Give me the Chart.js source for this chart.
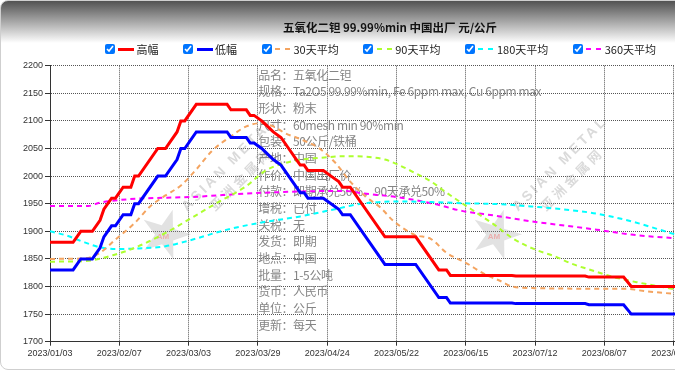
<!DOCTYPE html>
<html>
<head>
<meta charset="utf-8">
<title>五氧化二钽 99.99%min 中国出厂 元/公斤</title>
<script src="https://cdn.jsdelivr.net/npm/chart.js@4.4.0/dist/chart.umd.min.js"></script>
<style>
html, body { margin: 0; padding: 0; background: #fff; overflow: hidden; width: 675px; height: 372px; }
#wrap { position: absolute; left: 0; top: 0; width: 778px; height: 368px; border: 1px solid #cfcfcf; border-radius: 8px;
        background: linear-gradient(#525252 0px, #ffffff 42px, #ffffff 100%); overflow: hidden; }
#chart { position: absolute; left: 0; top: 0; }
#title { position: absolute; left: 0; top: 19px; width: 778px; text-align: center; color: #111;
         font: bold 11.5px/14px "Noto Sans CJK SC", sans-serif; }
#legend { position: absolute; left: 103.5px; top: 41px; height: 14px; display: flex; align-items: center;
          font: 11px/14px "Noto Sans CJK SC", sans-serif; color: #222; }
#legend .item { display: flex; align-items: center; margin-right: 24.5px; cursor: pointer; }
#legend input { width: 10px; height: 10px; margin: 0 3.5px 0 0; }
#legend .swatch { display: inline-block; width: 16px; margin-right: 2.5px; }
</style>
</head>
<body>
<div id="wrap">
  <canvas id="chart" width="778" height="368"></canvas>
  <div id="title">五氧化二钽 99.99%min 中国出厂 元/公斤</div>
  <div id="legend"></div>
</div>
<script>
// x = 交易日序号, 每 18 个交易日一个刻度
const tickLabels = ['2023/01/03', '2023/02/07', '2023/03/03', '2023/03/29', '2023/04/24',
                    '2023/05/22', '2023/06/15', '2023/07/12', '2023/08/07', '2023/08/31'];

// 高幅 / 低幅 (价格折点)
const stepDays  = [0, 6, 8, 11, 13, 14, 16, 17, 19, 21, 22, 23, 28, 30, 33, 34, 35, 38, 46, 47,
                   51, 52, 53, 55, 58, 60, 62, 64, 65, 66, 67, 71, 73, 75, 76, 78, 87, 95, 101, 103,
                   104, 120, 121, 139, 140, 149, 151, 163];
const highPrice = [1880, 1880, 1900, 1900, 1920, 1940, 1960, 1960, 1980, 1980, 2000, 2000, 2050, 2050, 2080, 2100, 2100, 2130, 2130, 2120,
                   2120, 2110, 2110, 2100, 2080, 2070, 2050, 2030, 2020, 2020, 2010, 2010, 2000, 1990, 1980, 1980, 1890, 1890, 1830, 1830,
                   1820, 1820, 1819, 1819, 1817, 1817, 1800, 1800];
const lowPrice  = [1830, 1830, 1850, 1850, 1870, 1890, 1910, 1910, 1930, 1930, 1950, 1950, 2000, 2000, 2030, 2050, 2050, 2080, 2080, 2070,
                   2070, 2060, 2060, 2050, 2030, 2020, 2000, 1980, 1970, 1970, 1960, 1960, 1950, 1940, 1930, 1930, 1840, 1840, 1780, 1780,
                   1770, 1770, 1769, 1769, 1767, 1767, 1750, 1750];

// 均线
const ma30Days = [0, 9, 13, 17, 22, 26, 30, 34, 38, 42, 47, 51, 55, 58, 61, 65, 70, 74, 78, 82,
                  86, 89, 93, 95, 99, 103, 108, 113, 117, 120, 126, 144, 150, 153, 163];
const ma30     = [1850, 1851, 1861, 1885, 1915, 1945, 1965, 1983, 2012, 2045, 2072, 2090, 2096, 2090, 2078, 2067, 2050, 2025, 1990, 1963,
                  1942, 1920, 1900, 1893, 1886, 1861, 1843, 1822, 1810, 1800, 1797, 1796, 1796, 1793, 1786];

const ma90Days = [0, 9, 17, 23, 30, 36, 43, 51, 56, 63, 70, 77, 82, 87, 90, 95, 99, 103, 107, 112,
                  116, 120, 126, 131, 136, 140, 144, 147, 153, 163];
const ma90     = [1845, 1846, 1858, 1873, 1897, 1921, 1950, 1982, 2010, 2027, 2033, 2036, 2035, 2030, 2022, 2005, 1990, 1970, 1951, 1928,
                  1909, 1888, 1867, 1855, 1840, 1831, 1822, 1816, 1807, 1794];

const ma180Days = [0, 4, 9, 13, 17, 23, 30, 36, 46, 55, 65, 74, 81, 90, 99, 107, 117, 125, 133, 142, 151, 163];
const ma180     = [1900, 1893, 1880, 1871, 1868, 1869, 1873, 1883, 1903, 1916, 1927, 1940, 1950, 1954, 1953, 1951, 1949, 1945, 1940, 1932, 1918, 1893];

const ma360Days = [0, 10, 13, 39, 56, 74, 77, 81, 90, 99, 107, 116, 125, 133, 142, 151, 163];
const ma360     = [1946, 1946, 1952, 1963, 1970, 1973, 1973, 1969, 1962, 1951, 1937, 1928, 1918, 1911, 1903, 1894, 1887];

const specLines = ['品名：五氧化二钽', '规格：Ta2O5 99.99%min, Fe 6ppm max, Cu 6ppm max', '形状：粉末',
                   '尺寸：60mesh min 90%min', '包装：50公斤/铁桶', '产地：中国', '作价：中国出厂价',
                   '付款：即期承兑50%，90天承兑50%', '增税：已付', '关税：无', '发货：即期', '地点：中国',
                   '批量：1-5公吨', '货币：人民币', '单位：公斤', '更新：每天'];

const toPts = (days, vals) => days.map((d, i) => ({ x: d, y: vals[i] }));

function drawMark(ctx, cx, cy) {
    ctx.save();
    ctx.translate(cx, cy);
    ctx.fillStyle = 'rgba(150,150,150,0.28)';
    ctx.beginPath();
    for (let i = 0; i < 10; i++) {
        const r = i % 2 ? 10 : 26;
        const a = -Math.PI / 2 + 0.3 + i * Math.PI / 5;
        ctx.lineTo(Math.cos(a) * r, Math.sin(a) * r);
    }
    ctx.closePath();
    ctx.fill();
    ctx.fillStyle = 'rgba(255,80,80,0.35)';
    ctx.font = 'bold 8px "Liberation Sans"';
    ctx.textAlign = 'center';
    ctx.fillText('AM', -2, 4);
    ctx.translate(22, -23);
    ctx.rotate(-Math.PI / 4);
    ctx.textAlign = 'left';
    ctx.fillStyle = 'rgba(150,150,150,0.35)';
    ctx.letterSpacing = '3px';
    ctx.font = 'bold 14px "Liberation Sans"';
    ctx.fillText('ASIAN METAL', 0, 0);
    ctx.letterSpacing = '3.5px';
    ctx.font = 'bold 13px "Noto Sans CJK SC"';
    ctx.fillText('亚洲金属网', 20, 20);
    ctx.restore();
}

// 水印 + 规格文字, 画在网格之后、曲线之前
const specPlugin = {
    id: 'spec',
    beforeDatasetsDraw(chart) {
        const { ctx, chartArea: a } = chart;
        drawMark(ctx, a.left + 115, a.top + 169);
        drawMark(ctx, a.left + 446, a.top + 169);
        ctx.save();
        ctx.font = '12px "Noto Sans CJK SC"';
        ctx.letterSpacing = '-0.4px';
        ctx.fillStyle = '#858585';
        ctx.textBaseline = 'middle';
        specLines.forEach((t, i) => ctx.fillText(t, a.left + 208.3, a.top + 9.3 + i * 16.67));
        ctx.restore();
    }
};

// 带复选框的图例
const htmlLegend = {
    id: 'htmlLegend',
    afterUpdate(chart) {
        const box = document.getElementById('legend');
        box.innerHTML = '';
        chart.data.datasets.forEach((ds, i) => {
            const item = document.createElement('label');
            item.className = 'item';
            const cb = document.createElement('input');
            cb.type = 'checkbox';
            cb.checked = chart.isDatasetVisible(i);
            cb.onchange = () => { chart.setDatasetVisibility(i, cb.checked); chart.update(); };
            const sw = document.createElement('span');
            sw.className = 'swatch';
            const dashed = ds.borderDash.length > 0;
            sw.style.height = dashed ? '2px' : '3px';
            sw.style.background = dashed
                ? `repeating-linear-gradient(90deg, ${ds.borderColor} 0 5px, transparent 5px 10px)`
                : ds.borderColor;
            const txt = document.createElement('span');
            txt.textContent = ds.label;
            item.append(cb, sw, txt);
            box.appendChild(item);
        });
    }
};

const solid = (label, data, color) => ({ label, data, borderColor: color, backgroundColor: color,
    borderWidth: 3, borderDash: [], pointRadius: 0, tension: 0 });
const dashed = (label, data, color) => ({ label, data, borderColor: color, backgroundColor: color,
    borderWidth: 2, borderDash: [5, 4], pointRadius: 0, cubicInterpolationMode: 'monotone' });

Chart.defaults.font.family = '"Liberation Sans", Arial, sans-serif';

new Chart(document.getElementById('chart'), {
    type: 'line',
    data: {
        datasets: [
            solid('高幅', toPts(stepDays, highPrice), '#ff0000'),
            solid('低幅', toPts(stepDays, lowPrice), '#0000ff'),
            dashed('30天平均', toPts(ma30Days, ma30), '#f4a460'),
            dashed('90天平均', toPts(ma90Days, ma90), '#adff2f'),
            dashed('180天平均', toPts(ma180Days, ma180), '#00ffff'),
            dashed('360天平均', toPts(ma360Days, ma360), '#ff00ff')
        ]
    },
    options: {
        responsive: false,
        animation: false,
        devicePixelRatio: 1,
        layout: { padding: { left: 0, top: 64.7, right: 101.5, bottom: 0 } },
        plugins: { legend: { display: false }, title: { display: false }, tooltip: { enabled: false } },
        scales: {
            x: {
                type: 'linear', min: 0, max: 163,
                afterFit: s => { s.height = 27.3; },
                ticks: {
                    stepSize: 18, includeBounds: false, autoSkip: false, maxRotation: 0,
                    color: '#333', font: { size: 9 }, padding: 2,
                    callback: v => tickLabels[v / 18] ?? ''
                },
                grid: { color: '#555', tickColor: '#333', tickLength: 4 },
                border: { color: '#333', width: 1, dash: [1, 1] }
            },
            y: {
                min: 1700, max: 2200,
                afterFit: s => { s.width = 49; },
                ticks: { stepSize: 50, color: '#333', font: { size: 9 }, padding: 2, callback: v => String(v) },
                grid: { color: '#555', tickColor: '#333', tickLength: 5 },
                border: { color: '#333', width: 1, dash: [1, 1] }
            }
        }
    },
    plugins: [specPlugin, htmlLegend]
});
</script>
</body>
</html>
